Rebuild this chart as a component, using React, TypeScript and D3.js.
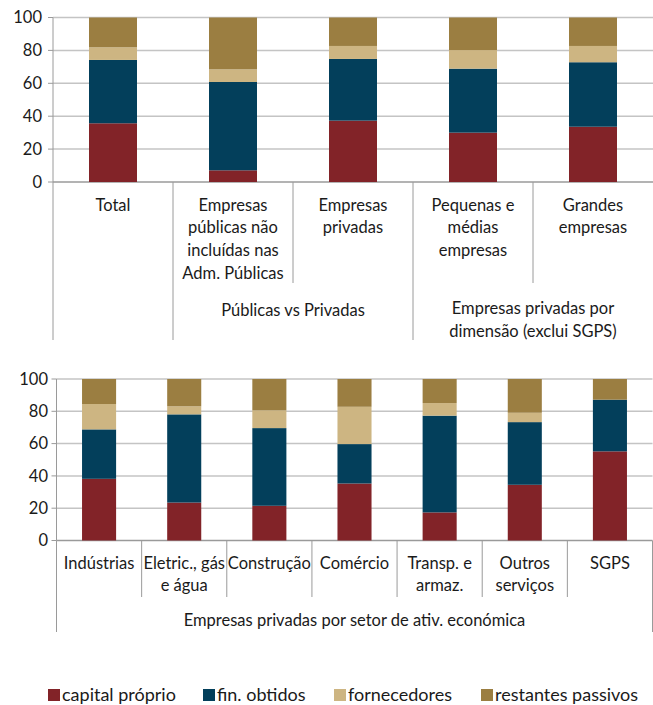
import React from "react";
import * as d3 from "d3";

// Series definitions (percent of total liabilities + equity)
const seriesKeys = ["capital", "fin", "forn", "rest"];
const seriesNames = ["capital próprio", "fin. obtidos", "fornecedores", "restantes passivos"];
const seriesColors = ["#822328", "#033F5B", "#CDB582", "#9B7E41"];

// Top panel: public vs private, size classes
const topCategories = ["Total", "Públicas", "Privadas", "PME", "Grandes"];
const topLabels = [
  ["Total"],
  ["Empresas", "públicas não", "incluídas nas", "Adm. Públicas"],
  ["Empresas", "privadas"],
  ["Pequenas e", "médias", "empresas"],
  ["Grandes", "empresas"],
];
const topCapital = [35.7, 7.1, 37.3, 30.0, 33.6];
const topFin = [38.5, 53.7, 37.5, 38.9, 39.2];
const topForn = [7.7, 7.7, 7.9, 11.3, 9.9];
const topRest = [18.1, 31.5, 17.3, 19.8, 17.3];
const topGroups = [
  { from: 1, to: 2, lines: ["Públicas vs Privadas"] },
  { from: 3, to: 4, lines: ["Empresas privadas por", "dimensão (exclui SGPS)"] },
];

// Bottom panel: private firms by sector of activity
const bottomCategories = ["Ind", "Ele", "Con", "Com", "Tra", "Out", "SGPS"];
const bottomLabels = [
  ["Indústrias"],
  ["Eletric., gás", "e água"],
  ["Construção"],
  ["Comércio"],
  ["Transp. e", "armaz."],
  ["Outros", "serviços"],
  ["SGPS"],
];
const bottomCapital = [38.2, 23.5, 21.5, 35.3, 17.4, 34.5, 55.2];
const bottomFin = [30.6, 54.6, 48.1, 24.4, 59.9, 38.8, 32.0];
const bottomForn = [15.7, 5.0, 11.0, 23.1, 7.8, 5.8, 0.0];
const bottomRest = [15.5, 16.9, 19.4, 17.2, 14.9, 20.9, 12.8];
const bottomGroup = ["Empresas privadas por setor de ativ. económica"];

const yTicks = [0, 20, 40, 60, 80, 100];

const FONT = "Lato, 'Open Sans', sans-serif";
const TEXT = "#1a1a1a";
const GRID = "#c4c4c4";
const AXIS = "#9a9a9a";

function buildRows(cats, a, b, c, d) {
  return cats.map((cat, i) => ({ cat, capital: a[i], fin: b[i], forn: c[i], rest: d[i] }));
}

function Panel({ cats, rows, labels, x0, x1, yBottom, yTop, tickRight, firstLineY, lineGap, catLineBottom, groups, groupLineBottom, groupY, drawRight }) {
  const x = d3.scaleBand().domain(cats).range([x0, x1]).paddingInner(0.6).paddingOuter(0.3);
  const y = d3.scaleLinear().domain([0, 100]).range([yBottom, yTop]);
  const stacked = d3.stack().keys(seriesKeys)(rows);
  const step = x.step();
  const edges = d3.range(cats.length + 1).map((i) => x0 + i * step);
  const fs = 16.5;

  // categories that begin a new group get a long separator
  const longEdges = new Set([0, cats.length]);
  groups.forEach((g) => {
    longEdges.add(g.from);
    longEdges.add(g.to + 1);
  });

  return (
    <g>
      {yTicks.map((t) => (
        <g key={t}>
          <line x1={x0} x2={x1} y1={y(t)} y2={y(t)} stroke={t === 0 ? AXIS : GRID} strokeWidth={1.5} />
          <line x1={x0 - 5} x2={x0} y1={y(t)} y2={y(t)} stroke={AXIS} strokeWidth={1} />
          <text x={tickRight} y={y(t)} dy="0.35em" textAnchor="end" fontSize={16.5} fontFamily={FONT} fill={TEXT}>
            {t}
          </text>
        </g>
      ))}
      <line x1={x0} x2={x0} y1={yTop} y2={yBottom} stroke={AXIS} strokeWidth={1} />
      {stacked.map((layer, li) =>
        layer.map((s, i) => (
          <rect
            key={li + "-" + i}
            x={x(cats[i])}
            width={x.bandwidth()}
            y={y(s[1])}
            height={Math.max(0, y(s[0]) - y(s[1]))}
            fill={seriesColors[li]}
          />
        ))
      )}
      {edges.map((ex, i) => {
        if (i === cats.length && !drawRight) return null;
        const bottom = longEdges.has(i) ? groupLineBottom : catLineBottom;
        return <line key={"e" + i} x1={ex} x2={ex} y1={yBottom} y2={bottom} stroke={AXIS} strokeWidth={1} />;
      })}
      {labels.map((lines, i) => (
        <text key={"c" + i} textAnchor="middle" fontSize={fs} fontFamily={FONT} fill={TEXT}>
          {lines.map((ln, j) => (
            <tspan key={j} x={x(cats[i]) + x.bandwidth() / 2} y={firstLineY + j * lineGap} dy="0.35em">
              {ln}
            </tspan>
          ))}
        </text>
      ))}
      {groups.map((g, gi) => {
        const cx = (edges[g.from] + edges[g.to + 1]) / 2;
        const gy = g.lines.length > 1 ? groupY - lineGap / 2 : groupY - 10;
        return (
          <text key={"g" + gi} textAnchor="middle" fontSize={fs} fontFamily={FONT} fill={TEXT}>
            {g.lines.map((ln, j) => (
              <tspan key={j} x={cx} y={gy + j * lineGap} dy="0.35em">
                {ln}
              </tspan>
            ))}
          </text>
        );
      })}
    </g>
  );
}

export default function App() {
  const topRows = buildRows(topCategories, topCapital, topFin, topForn, topRest);
  const bottomRows = buildRows(bottomCategories, bottomCapital, bottomFin, bottomForn, bottomRest);
  const legendX = [48, 203, 334, 481];

  return (
    <svg width={653} height={705} style={{ position: "absolute", left: 0, top: 0, background: "#fff" }}>
      <Panel
        cats={topCategories}
        rows={topRows}
        labels={topLabels}
        x0={53}
        x1={653}
        yBottom={182}
        yTop={17.5}
        tickRight={42}
        firstLineY={205}
        lineGap={22.6}
        catLineBottom={283}
        groups={topGroups}
        groupLineBottom={340}
        groupY={320}
        drawRight={false}
      />
      <Panel
        cats={bottomCategories}
        rows={bottomRows}
        labels={bottomLabels}
        x0={56.5}
        x1={652.5}
        yBottom={540.5}
        yTop={379}
        tickRight={48}
        firstLineY={563}
        lineGap={22}
        catLineBottom={597}
        groups={[{ from: 0, to: 6, lines: bottomGroup }]}
        groupLineBottom={632}
        groupY={630}
        drawRight={true}
      />
      {seriesNames.map((name, i) => (
        <g key={name}>
          <rect x={legendX[i]} y={689} width={12} height={12} fill={seriesColors[i]} />
          <text x={legendX[i] + 14} y={695} dy="0.35em" fontSize={18} fontFamily={FONT} fill={TEXT}>
            {name}
          </text>
        </g>
      ))}
    </svg>
  );
}
